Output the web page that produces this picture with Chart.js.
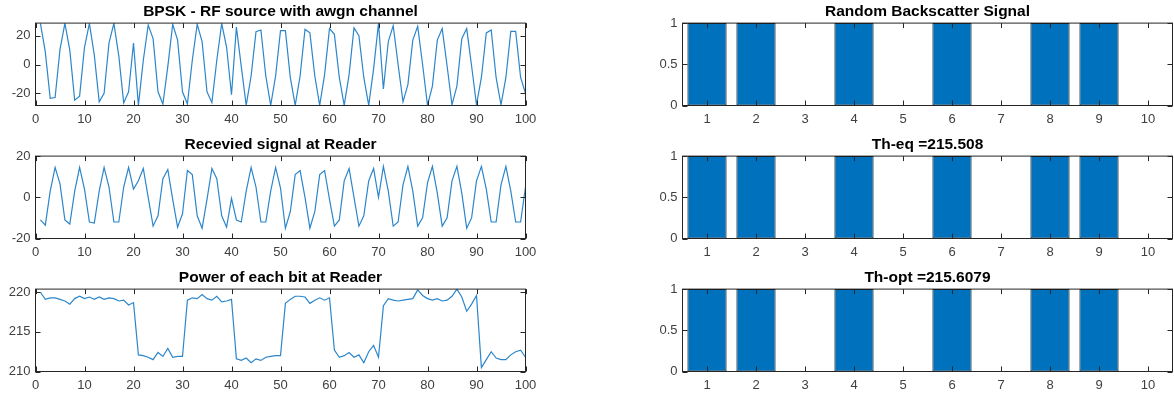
<!DOCTYPE html>
<html>
<head>
<meta charset="utf-8">
<script src="https://cdn.jsdelivr.net/npm/chart.js@4.4.1/dist/chart.umd.min.js"></script>
<style>
  html, body { margin: 0; padding: 0; background: #fff; }
  #wrap { position: relative; width: 1174px; height: 399px; overflow: hidden; }
  #wrap canvas { position: absolute; }
</style>
</head>
<body>
<div id="wrap">
  <canvas id="rfSrc"   width="561" height="131" style="left:0;top:0"></canvas>
  <canvas id="rxSig"   width="561" height="131" style="left:0;top:133px"></canvas>
  <canvas id="rxPow"   width="561" height="131" style="left:0;top:266px"></canvas>
  <canvas id="bitsRnd" width="561" height="131" style="left:647px;top:0"></canvas>
  <canvas id="bitsEq"  width="561" height="131" style="left:647px;top:133px"></canvas>
  <canvas id="bitsOpt" width="561" height="131" style="left:647px;top:266px"></canvas>
</div>
<script>
// ---------- data ----------
const rfSource = [
  28.6, 8.8, -23.5, -23, 10.5, 28.6, 10, -24.8, -22, 12,
  28.6, 6.5, -26, -20, 15, 28.6, 6, -26.7, -19, 15,
  -28.4, 3, 27.4, 18, -19, -27.5, -1.5, 28, 17, -19,
  -27.5, 3, 28, 16, -19, -26.5, 3, 28.6, 12, -21,
  26, -1.5, -28.4, -8, 22.8, 24, -8, -28.4, -8, 23.5,
  23.5, -9, -28.4, -8, 24.4, 22, -8, -28.4, -7, 25,
  21, -9, -28.4, -7, 25.5, 20, -9, -28.4, -3, 28.6,
  -17, 16, 27, 0, -26, -14, 17, 26.5, 0, -28.4,
  -15, 17, 25, -1, -28, -15, 18, 25, -1, -28,
  -9, 22, 24, -9, -28, -9, 23, 23, -9, -20
];
const rxSignal = [
  -11, -13.5, 3, 14.5, 6.5, -11, -13, 3, 14.5, 4,
  -12, -12.5, 3, 14.5, 5, -12, -12, 5, 14.5, 4,
  8, 14, 0, -14, -9, 9, 13.5, -1, -14.5, -8,
  13, 11, -9, -15, -1, 14, 9, -9, -14.5, -0.5,
  -11, -12, 3, 14.5, 5, -12, -12, 3, 14.5, 4.5,
  -15, -7, 11, 13, 0, -15, -7, 11, 13, -1,
  -14, -11, 8, 14, 0, -14, -9, 8, 14, 0,
  15, 3, -14, -12, 6, 15, 3, -14, -10, 7,
  15, 2, -14, -10, 8, 15, 2, -15, -10, 8,
  15, 4, -12, -12, 6, 15, 3, -12, -12, 5
];
const rxPower = [
  220.0, 219.1, 219.3, 219.3, 219.1, 218.9, 218.5, 219.2, 219.5, 219.2,
  219.4, 219.1, 219.4, 219.1, 219.3, 219.2, 218.9, 219.0, 218.4, 218.7,
  212.1, 212.0, 211.8, 211.5, 212.4, 211.9, 212.9, 211.8, 211.9, 211.9,
  219.0, 219.3, 219.2, 219.7, 219.2, 219.0, 219.5, 218.8, 218.9, 219.1,
  211.6, 211.4, 211.7, 211.1, 211.6, 211.4, 211.8, 211.9, 212.0, 212.0,
  218.6, 219.1, 219.5, 219.5, 219.4, 218.6, 219.0, 219.3, 219.0, 219.3,
  212.7, 211.8, 212.0, 212.4, 211.8, 212.1, 211.1, 212.5, 213.3, 211.8,
  218.3, 219.2, 219.0, 218.9, 219.0, 219.1, 219.2, 220.3, 219.6, 219.2,
  219.0, 219.2, 218.9, 219.0, 219.5, 220.4, 219.4, 217.6, 218.5, 219.6,
  210.5, 211.5, 212.5, 211.7, 211.5, 211.5, 212.1, 212.5, 212.7, 211.8
];
const bitIndex = ['1', '2', '3', '4', '5', '6', '7', '8', '9', '10'];
const bitsRandom = [1, 1, 0, 1, 0, 1, 0, 1, 1, 0];
const bitsEq = [1, 1, 0, 1, 0, 1, 0, 1, 1, 0];
const bitsOpt = [1, 1, 0, 1, 0, 1, 0, 1, 1, 0];

const sampleTicks = [0, 10, 20, 30, 40, 50, 60, 70, 80, 90, 100];
const ampTicks = [-20, 0, 20];
const powTicks = [210, 215, 220];
const bitTicks = [0, 0.5, 1];

// ---------- look ----------
const AXIS = '#262626';
const LINE = '#2b86cb';
const BAR = '#0072BD';
const TICK_LEN = 5;

Chart.defaults.font.family = '"Liberation Sans", Arial, Helvetica, sans-serif';
Chart.defaults.font.size = 13;
Chart.defaults.color = '#404040';
Chart.defaults.animation = false;
Chart.defaults.plugins.legend.display = false;
Chart.defaults.plugins.tooltip.enabled = false;

// matlab-ish box with inward ticks on all four sides
const matBox = {
  id: 'matBox',
  afterDraw(chart) {
    const { ctx, chartArea: a, scales } = chart;
    ctx.save();
    ctx.strokeStyle = AXIS;
    ctx.lineWidth = 1;
    ctx.strokeRect(a.left, a.top, a.width, a.height);
    ctx.beginPath();
    const xs = scales.x, ys = scales.y;
    xs.ticks.forEach((t, i) => {
      const px = Math.round(xs.getPixelForTick(i)) + 0.5;
      ctx.moveTo(px, a.bottom); ctx.lineTo(px, a.bottom - TICK_LEN);
      ctx.moveTo(px, a.top); ctx.lineTo(px, a.top + TICK_LEN);
    });
    ys.ticks.forEach((t, i) => {
      const py = Math.round(ys.getPixelForTick(i)) + 0.5;
      ctx.moveTo(a.left, py); ctx.lineTo(a.left + TICK_LEN, py);
      ctx.moveTo(a.right, py); ctx.lineTo(a.right - TICK_LEN, py);
    });
    ctx.stroke();
    ctx.restore();
  }
};

const noPad = (s) => { s.paddingLeft = 0; s.paddingRight = 0; s.paddingTop = 0; s.paddingBottom = 0; };
const fixTicks = (vals) => (s) => { s.ticks = vals.map((v) => ({ value: v })); };

function titleOpt(text) {
  return {
    display: true,
    text,
    fullSize: false,
    color: '#000',
    font: { size: 15.5, weight: 'bold' },
    padding: { top: 2, bottom: 2.5 }
  };
}

function yAxis(min, max, ticks) {
  return {
    type: 'linear',
    min, max,
    grid: { display: false, drawTicks: false },
    border: { display: false },
    afterBuildTicks: fixTicks(ticks),
    ticks: { padding: 5, autoSkip: false, callback: (v) => String(v) },
    afterFit: (s) => { noPad(s); s.width = 35.5; }
  };
}

function makeLine(id, title, values, yMin, yMax, yTicks) {
  new Chart(document.getElementById(id), {
    type: 'line',
    data: {
      datasets: [{
        data: values.map((v, i) => ({ x: i + 1, y: v })),
        borderColor: LINE,
        borderWidth: 1.2,
        pointRadius: 0,
        tension: 0,
        fill: false
      }]
    },
    options: {
      responsive: false,
      layout: { padding: { left: 0, right: 35.5, top: 0, bottom: 0 } },
      plugins: { title: titleOpt(title) },
      scales: {
        x: {
          type: 'linear',
          min: 0, max: 100,
          grid: { display: false, drawTicks: false },
          border: { display: false },
          afterBuildTicks: fixTicks(sampleTicks),
          ticks: { padding: 6, autoSkip: false, maxRotation: 0, callback: (v) => String(v) },
          afterFit: (s) => { noPad(s); s.height = 25.5; }
        },
        y: yAxis(yMin, yMax, yTicks)
      }
    },
    plugins: [matBox]
  });
}

function makeBits(id, title, bits) {
  new Chart(document.getElementById(id), {
    type: 'bar',
    data: {
      labels: bitIndex,
      datasets: [{
        data: bits,
        backgroundColor: BAR,
        borderColor: '#111',
        borderWidth: 1,
        borderSkipped: false,
        barPercentage: 0.8,
        categoryPercentage: 1
      }]
    },
    options: {
      responsive: false,
      layout: { padding: { left: 0, right: 35.5, top: 0, bottom: 0 } },
      plugins: { title: titleOpt(title) },
      scales: {
        x: {
          type: 'category',
          offset: true,
          grid: { display: false, drawTicks: false, offset: true },
          border: { display: false },
          ticks: { padding: 6, autoSkip: false, maxRotation: 0 },
          afterFit: (s) => { noPad(s); s.height = 25.5; }
        },
        y: yAxis(0, 1, bitTicks)
      }
    },
    plugins: [matBox]
  });
}

makeLine('rfSrc', 'BPSK - RF source with awgn channel', rfSource, -28.5, 28.8, ampTicks);
makeLine('rxSig', 'Recevied signal at Reader', rxSignal, -20, 20, ampTicks);
makeLine('rxPow', 'Power of each bit at Reader', rxPower, 210, 220.4, powTicks);
makeBits('bitsRnd', 'Random Backscatter Signal', bitsRandom);
makeBits('bitsEq', 'Th-eq =215.508', bitsEq);
makeBits('bitsOpt', 'Th-opt =215.6079', bitsOpt);
</script>
</body>
</html>
